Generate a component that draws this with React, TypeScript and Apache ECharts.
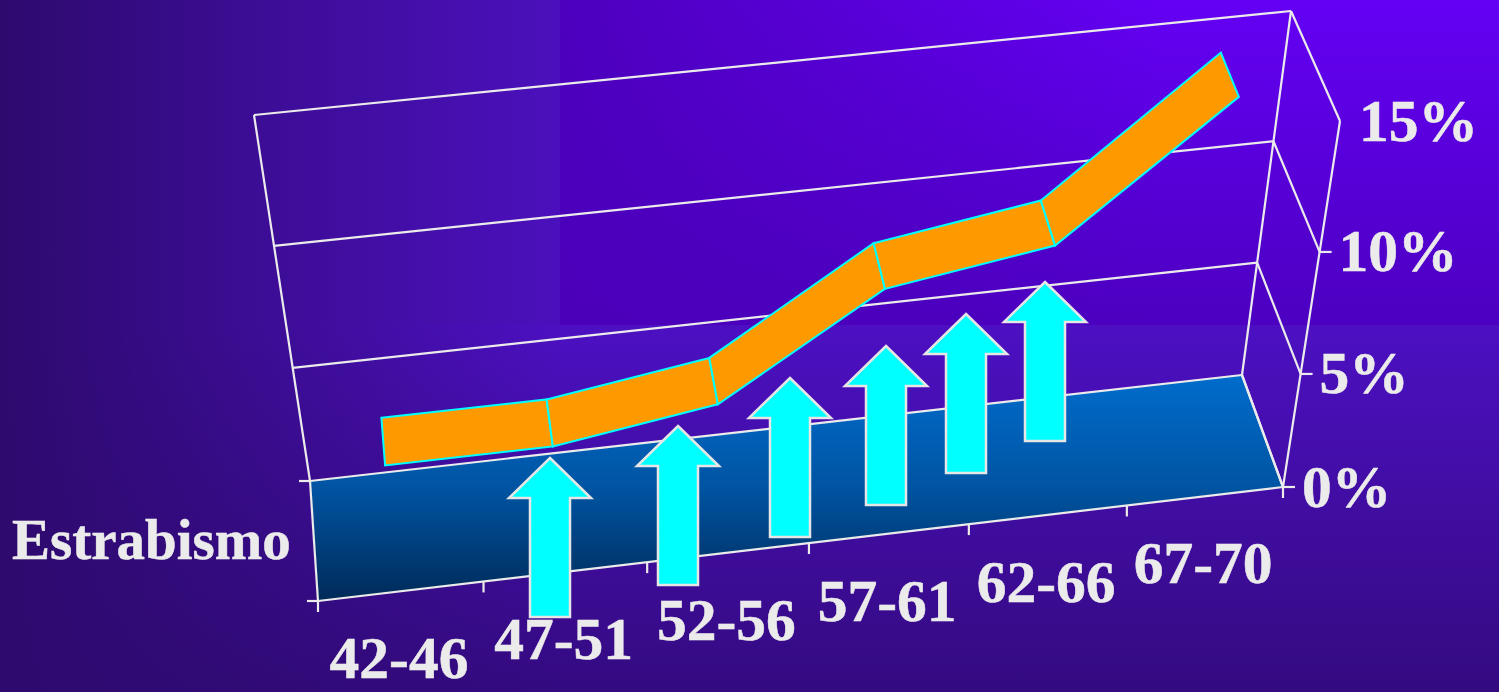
import React, { useEffect, useRef } from "react";
import * as echarts from "echarts";

// ---- data
const categories = ["42-46", "47-51", "52-56", "57-61", "62-66", "67-70"];
const prevalence = [4, 4, 5, 9, 10, 15];
const valueTicks = [0, 5, 10, 15];
const seriesName = "Estrabismo";

// ---- layout of the drawing (not data)
const WIDTH = 1499;
const HEIGHT = 692;
const GRID = { left: 0, top: 0, width: 1000, height: 600 };
const BACK_BOTTOM_L = [310, 481];
const BACK_BOTTOM_R = [1242, 375];
const BACK_TOP_L = [254, 115];
const BACK_TOP_R = [1291, 11];
const FRONT_BOTTOM_L = [318, 601];
const FRONT_BOTTOM_R = [1283, 487];
const FRONT_TOP_L = [254, 233];
const FRONT_TOP_R = [1340, 121];
const RIBBON_BACK = 0.3;
const RIBBON_FRONT = 0.7;
const ARROW_TIPS = [[550, 458], [678, 426], [790, 378], [886, 346], [966, 314], [1045, 282]];
const TEXT_COLOR = "#ebebeb";
const LINE_COLOR = "#ebebeb";
const FONT_NUM = 'bold 59.5px "Liberation Serif"';
const FONT_NAME = 'bold 57px "Liberation Serif"';
const BASE_SHIFT_NUM = 20;
const BASE_SHIFT_NAME = 19;

const lerp = (a: number[], b: number[], t: number) => [a[0] + (b[0] - a[0]) * t, a[1] + (b[1] - a[1]) * t];
const warpU = (u: number) => u + 0.035 * u * (1 - u);
const warpV = (v: number) => v - 0.11 * v * (1 - v);

function project(u: number, v: number, w: number) {
  const U = warpU(u);
  const V = warpV(v);
  const back = lerp(lerp(BACK_BOTTOM_L, BACK_BOTTOM_R, U), lerp(BACK_TOP_L, BACK_TOP_R, U), V);
  const front = lerp(lerp(FRONT_BOTTOM_L, FRONT_BOTTOM_R, U), lerp(FRONT_TOP_L, FRONT_TOP_R, U), V);
  return lerp(back, front, w);
}

const toUV = (api: any, i: number, val: number) => {
  const p = api.coord([i, val]);
  return [(p[0] - GRID.left) / GRID.width, 1 - (p[1] - GRID.top) / GRID.height];
};

const line = (a: number[], b: number[], color = LINE_COLOR, lineWidth = 2.2) => ({
  type: "line",
  shape: { x1: a[0], y1: a[1], x2: b[0], y2: b[1] },
  style: { stroke: color, lineWidth, fill: null },
});

const text = (str: string, x: number, baseline: number, align: string) => ({
  type: "text",
  style: {
    text: str,
    x,
    y: baseline - BASE_SHIFT_NUM,
    font: FONT_NUM,
    fill: TEXT_COLOR,
    stroke: TEXT_COLOR,
    lineWidth: 0.5,
    align,
    textAlign: align,
    verticalAlign: "middle",
    textVerticalAlign: "middle",
  },
});

function renderFrame(params: any, api: any) {
  const tick = api.value(1) as number;
  const [, v] = toUV(api, 0, tick);
  const children: any[] = [];
  if (params.dataIndex === 0) {
    children.push({
      type: "polygon",
      shape: { points: [project(0, 0, 0), project(1, 0, 0), project(1, 0, 1), project(0, 0, 1)] },
      style: {
        fill: new echarts.graphic.LinearGradient(0, 0, 0, 1, [
          { offset: 0, color: "#006ccc" },
          { offset: 0.5, color: "#0054a2" },
          { offset: 1, color: "#002a58" },
        ]),
      },
    });
    children.push(line(project(0, 0, 1), project(1, 0, 1)));
    children.push(line(project(0, 0, 0), project(0, 0, 1)));
    children.push(line(project(1, 0, 0), project(1, 0, 1)));
    children.push(line(project(0, 0, 0), project(0, 1, 0)));
    children.push(line(project(1, 0, 0), project(1, 1, 0)));
    children.push(line(project(1, 0, 1), project(1, 1, 1)));
    const a = project(0, 0, 0);
    const b = project(0, 0, 1);
    children.push(line([a[0] - 11, a[1]], a));
    children.push(line([b[0] - 11, b[1]], b));
    for (let k = 0; k <= categories.length; k++) {
      const p = project(k / categories.length, 0, 1);
      children.push(line(p, [p[0], p[1] + 11]));
    }
  }
  children.push(line(project(0, v, 0), project(1, v, 0)));
  children.push(line(project(1, v, 0), project(1, v, 1)));
  const f = project(1, v, 1);
  if (tick < valueTicks[valueTicks.length - 1]) {
    children.push(line(f, [f[0] + 12, f[1]]));
  }
  children.push(text(tick + "%", f[0] + 19, f[1] + 19.5, "left"));
  return { type: "group", children };
}

function renderRibbon(params: any, api: any) {
  const i = params.dataIndex;
  if (i >= prevalence.length - 1) return { type: "group", children: [] };
  const [u0, v0] = toUV(api, i, api.value(1) as number);
  const [u1, v1] = toUV(api, i + 1, prevalence[i + 1]);
  return {
    type: "polygon",
    shape: {
      points: [
        project(u0, v0, RIBBON_BACK),
        project(u1, v1, RIBBON_BACK),
        project(u1, v1, RIBBON_FRONT),
        project(u0, v0, RIBBON_FRONT),
      ],
    },
    style: { fill: "#ff9900", stroke: "#00ffff", lineWidth: 2, lineJoin: "miter" },
  };
}

function renderCategoryLabel(params: any, api: any) {
  const i = params.dataIndex;
  const [u] = toUV(api, i, 0);
  const p = project(u, 0, 1);
  return text(categories[i], p[0] - 2, p[1] + 87, "center");
}

const bgRect = (x: number, y: number, width: number, height: number, fill: any, z: number) => ({
  type: "rect",
  z,
  silent: true,
  shape: { x, y, width, height },
  style: { fill },
});

const V = (stops: string[]) =>
  new echarts.graphic.LinearGradient(0, 0, 0, 1, stops.map((color, i) => ({ offset: i / (stops.length - 1), color })));
const Hz = (stops: string[]) =>
  new echarts.graphic.LinearGradient(0, 0, 1, 0, stops.map((color, i) => ({ offset: i / (stops.length - 1), color })));

const arrowPoints = ([x, y]: number[]) => [
  [x, y],
  [x + 41, y + 40],
  [x + 20, y + 40],
  [x + 20, y + 159],
  [x - 20, y + 159],
  [x - 20, y + 40],
  [x - 41, y + 40],
];

export default function App() {
  const ref = useRef<HTMLDivElement>(null);
  useEffect(() => {
    document.body.style.margin = "0";
    document.body.style.overflow = "hidden";
    const chart = echarts.init(ref.current!, undefined, { renderer: "svg" });
    chart.setOption({
      animation: false,
      grid: { ...GRID, containLabel: false, show: false },
      xAxis: { type: "category", data: categories, show: false, boundaryGap: true },
      yAxis: { type: "value", min: 0, max: 15, interval: 5, show: false },
      graphic: {
        elements: [
          bgRect(0, 325, WIDTH, HEIGHT - 325, V(["#4c10c2", "#340a80"]), -10),
          bgRect(0, 325, 560, HEIGHT - 325, Hz(["rgba(46,10,110,1)", "rgba(46,10,110,0)"]), -9),
          bgRect(0, 0, 560, 325, Hz(["#2e0a6e", "#3d0d98", "#4b10bc"]), -8),
          bgRect(560, 0, WIDTH - 560, 325, V(["#6400f4", "#4c00c0"]), -8),
          bgRect(560, 0, 600, 325, Hz(["rgba(74,0,184,0.9)", "rgba(74,0,184,0)"]), -7),
          ...ARROW_TIPS.map((tip) => ({
            type: "polygon",
            z: 20,
            shape: { points: arrowPoints(tip) },
            style: { fill: "#00ffff", stroke: "#e6e6e6", lineWidth: 2.5, lineJoin: "miter" },
          })),
          {
            type: "text",
            z: 30,
            style: {
              text: seriesName,
              x: 12,
              y: 558 - BASE_SHIFT_NAME,
              font: FONT_NAME,
              fill: TEXT_COLOR,
              stroke: TEXT_COLOR,
              lineWidth: 0.5,
              align: "left",
              verticalAlign: "middle",
              textVerticalAlign: "middle",
            },
          },
        ],
      },
      series: [
        {
          type: "custom",
          name: "frame",
          z: 2,
          clip: false,
          silent: true,
          data: valueTicks.map((t) => [0, t]),
          renderItem: renderFrame,
        },
        {
          type: "custom",
          name: seriesName,
          z: 3,
          clip: false,
          silent: true,
          data: prevalence.map((p, i) => [i, p]),
          renderItem: renderRibbon,
        },
        {
          type: "custom",
          name: "labels",
          z: 25,
          clip: false,
          silent: true,
          data: categories.map((_, i) => [i, 0]),
          renderItem: renderCategoryLabel,
        },
      ],
    });
    return () => chart.dispose();
  }, []);
  return <div ref={ref} style={{ width: WIDTH, height: HEIGHT }} />;
}
